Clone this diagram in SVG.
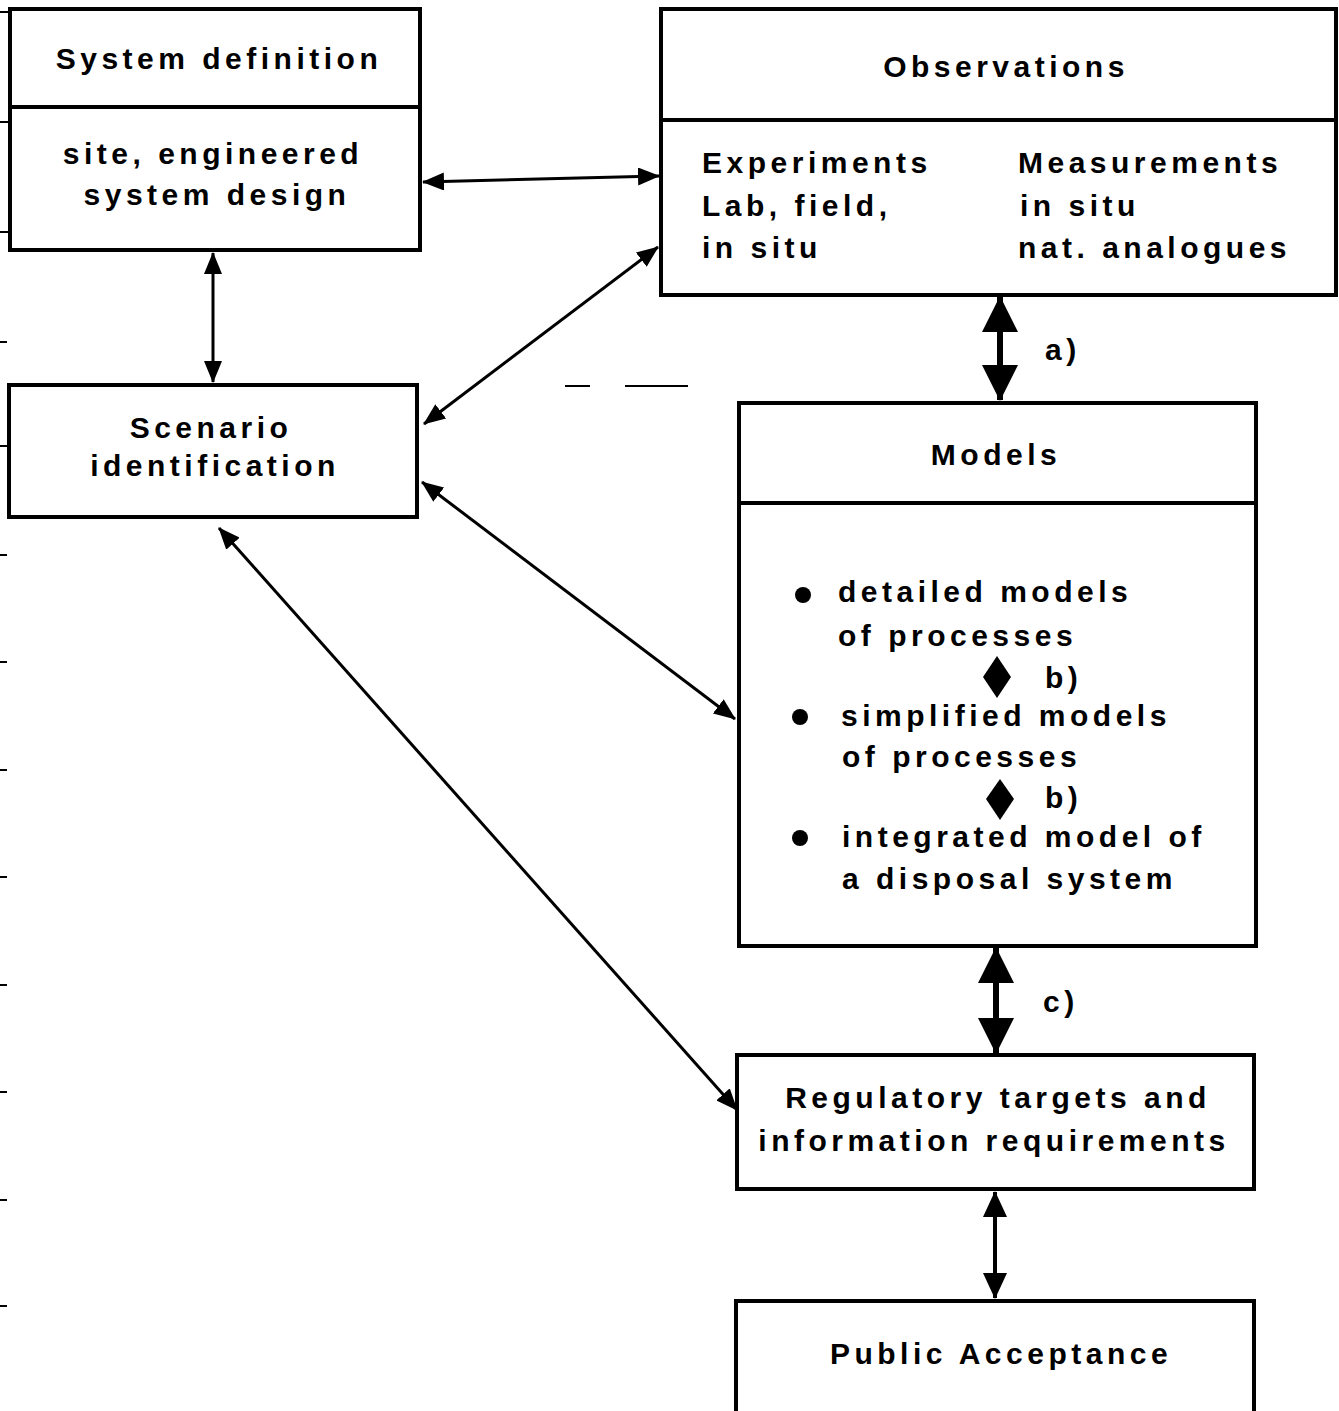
<svg xmlns="http://www.w3.org/2000/svg" width="1339" height="1411" viewBox="0 0 1339 1411">
  <style>
    .box { fill: #fff; stroke: #000; stroke-width: 4; }
    .div { stroke: #000; stroke-width: 4; }
    text { font-family: "Liberation Sans", Arial, sans-serif; font-weight: bold; font-size: 30px; letter-spacing: 4.5px; fill: #000; }
    .c { text-anchor: middle; }
    .thin { stroke: #000; stroke-width: 3; fill: none; marker-start: url(#headS); marker-end: url(#headS); }
    .mid { stroke: #000; stroke-width: 4; fill: none; marker-start: url(#headM); marker-end: url(#headM); }
    .thick { stroke: #000; stroke-width: 6; fill: none; marker-start: url(#headL); marker-end: url(#headL); }
    .tick { stroke: #000; stroke-width: 2; }
  </style>
  <defs>
    <marker id="headS" viewBox="0 0 22 18" refX="21" refY="9" markerWidth="22" markerHeight="18" markerUnits="userSpaceOnUse" orient="auto-start-reverse">
      <path d="M0,0 L22,9 L0,18 z" fill="#000"/>
    </marker>
    <marker id="headM" viewBox="0 0 26 24" refX="25" refY="12" markerWidth="26" markerHeight="24" markerUnits="userSpaceOnUse" orient="auto-start-reverse">
      <path d="M0,0 L26,12 L0,24 z" fill="#000"/>
    </marker>
    <marker id="headL" viewBox="0 0 36 36" refX="35" refY="18" markerWidth="36" markerHeight="36" markerUnits="userSpaceOnUse" orient="auto-start-reverse">
      <path d="M0,0 L36,18 L0,36 z" fill="#000"/>
    </marker>
  </defs>

  <rect width="1339" height="1411" fill="#fff"/>

  <!-- margin ticks along the left edge -->
  <g id="margin-marks">
    <line class="tick" x1="0" y1="12" x2="9" y2="12"/>
    <line class="tick" x1="0" y1="122" x2="9" y2="122"/>
    <line class="tick" x1="0" y1="232" x2="9" y2="232"/>
    <line class="tick" x1="0" y1="342" x2="7" y2="342"/>
    <line class="tick" x1="0" y1="446" x2="7" y2="446"/>
    <line class="tick" x1="0" y1="555" x2="7" y2="555"/>
    <line class="tick" x1="0" y1="662" x2="7" y2="662"/>
    <line class="tick" x1="0" y1="770" x2="7" y2="770"/>
    <line class="tick" x1="0" y1="877" x2="7" y2="877"/>
    <line class="tick" x1="0" y1="985" x2="7" y2="985"/>
    <line class="tick" x1="0" y1="1092" x2="7" y2="1092"/>
    <line class="tick" x1="0" y1="1200" x2="7" y2="1200"/>
    <line class="tick" x1="0" y1="1306" x2="7" y2="1306"/>
    <line class="tick" x1="565" y1="386" x2="590" y2="386"/>
    <line class="tick" x1="625" y1="386" x2="688" y2="386"/>
  </g>

  <!-- connectors -->
  <g id="connectors">
    <line class="thin" x1="423" y1="182" x2="659" y2="176"/>
    <line class="thin" x1="213" y1="253" x2="213" y2="382"/>
    <line class="thin" x1="424" y1="424" x2="658" y2="247"/>
    <line class="thin" x1="422" y1="482" x2="735" y2="719"/>
    <line class="thin" x1="219" y1="528" x2="737" y2="1110"/>
    <line class="thick" x1="1000" y1="297" x2="1000" y2="400"/>
    <line class="thick" x1="996" y1="948" x2="996" y2="1053"/>
    <line class="mid" x1="995" y1="1192" x2="995" y2="1298"/>
  </g>

  <g id="system-definition">
    <rect class="box" x="10" y="9" width="410" height="241"/>
    <line class="div" x1="10" y1="107" x2="420" y2="107"/>
    <text class="c" x="219" y="69">System definition</text>
    <text class="c" x="213" y="164">site, engineered</text>
    <text class="c" x="217" y="205">system design</text>
  </g>

  <g id="observations">
    <rect class="box" x="661" y="9" width="675" height="286"/>
    <line class="div" x1="661" y1="120" x2="1336" y2="120"/>
    <text class="c" x="1006" y="77">Observations</text>
    <text x="702" y="173">Experiments</text>
    <text x="702" y="216">Lab, field,</text>
    <text x="702" y="258">in situ</text>
    <text x="1018" y="173">Measurements</text>
    <text x="1020" y="216">in situ</text>
    <text x="1018" y="258">nat. analogues</text>
  </g>

  <g id="scenario-identification">
    <rect class="box" x="9" y="385" width="408" height="132"/>
    <text class="c" x="211" y="438">Scenario</text>
    <text class="c" x="215" y="476">identification</text>
  </g>

  <g id="models">
    <rect class="box" x="739" y="403" width="517" height="543"/>
    <line class="div" x1="739" y1="503" x2="1256" y2="503"/>
    <text class="c" x="996" y="465">Models</text>
    <circle cx="803" cy="595" r="8" fill="#000"/>
    <text x="838" y="602">detailed models</text>
    <text x="838" y="646">of processes</text>
    <path d="M997,656 L1011,677 L997,698 L983,677 z" fill="#000"/>
    <text x="1045" y="688">b)</text>
    <circle cx="800" cy="717" r="8" fill="#000"/>
    <text x="841" y="726">simplified models</text>
    <text x="842" y="767">of processes</text>
    <path d="M1000,779 L1014,799 L1000,820 L986,799 z" fill="#000"/>
    <text x="1045" y="808">b)</text>
    <circle cx="800" cy="838" r="8" fill="#000"/>
    <text x="842" y="847">integrated model of</text>
    <text x="842" y="889">a disposal system</text>
  </g>

  <g id="labels">
    <text x="1045" y="360">a)</text>
    <text x="1043" y="1012">c)</text>
  </g>

  <g id="regulatory-targets">
    <rect class="box" x="737" y="1055" width="517" height="134"/>
    <text class="c" x="998" y="1108">Regulatory targets and</text>
    <text class="c" x="994" y="1151">information requirements</text>
  </g>

  <g id="public-acceptance">
    <rect class="box" x="736" y="1301" width="518" height="120"/>
    <text class="c" x="1001" y="1364">Public Acceptance</text>
  </g>
</svg>
